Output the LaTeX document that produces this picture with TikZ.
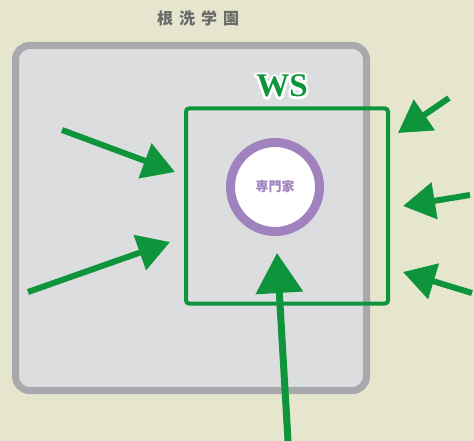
\documentclass[tikz,border=0pt]{standalone}
\usepackage{fontspec}
\usetikzlibrary{arrows.meta}
\newfontfamily\jpfont{Noto Sans CJK JP}
\newfontfamily\wsfont{Liberation Serif}
\definecolor{paper}{RGB}{229,230,205}
\definecolor{campus}{RGB}{220,221,222}
\definecolor{campusline}{RGB}{168,169,172}
\definecolor{wsgreen}{RGB}{14,148,58}
\definecolor{expert}{RGB}{160,131,190}
\definecolor{titlegray}{RGB}{105,105,105}
\newcommand{\wshalo}[1]{\special{pdf:code q 2 Tr 5 w 1 j 1 1 1 RG}#1\special{pdf:code Q}}
\begin{document}
\begin{tikzpicture}[x=1pt,y=-1pt]

        \fill[paper] (0,0) rectangle (474,441);
        \useasboundingbox (0,0) rectangle (474,441);

        \node (campus) [draw=campusline,fill=campus,line width=7pt,rounded corners=14pt,
          minimum width=351pt,minimum height=345pt,inner sep=0pt] at (191,218) {};
        \node (title) at (198,18)
          {\jpfont\bfseries\fontsize{16}{16}\selectfont\color{titlegray}根\hspace{6pt}洗\hspace{6pt}学\hspace{6pt}園};

        \node (ws) [draw=wsgreen,line width=4pt,rounded corners=3pt,
          minimum width=202pt,minimum height=195pt,inner sep=0pt] at (287,206) {};
        \node (wshalo) at (282,86)
          {\wsfont\bfseries\fontsize{33}{33}\selectfont\color{white}\wshalo{WS}};
        \node (wslabel) at (282,86)
          {\wsfont\bfseries\fontsize{33}{33}\selectfont\color{wsgreen}WS};

        \node (expert) [circle,draw=expert,fill=white,line width=9pt,minimum size=89pt,inner sep=0pt]
          at (275,187) {\jpfont\bfseries\fontsize{13}{13}\selectfont\color{expert}専門家};

        \begin{scope}
          \coordinate (w1) at (62,130);   \coordinate (w1tip) at (175,172);
          \coordinate (w2) at (28,292);   \coordinate (w2tip) at (170,242);
          \coordinate (e1) at (449,98);   \coordinate (e1tip) at (398,133);
          \coordinate (e2) at (470,195);  \coordinate (e2tip) at (403,206);
          \coordinate (e3) at (472,293);  \coordinate (e3tip) at (403,272);
          \coordinate (s1) at (288,441);  \coordinate (s1tip) at (277,253);
        \end{scope}

        \begin{scope}[every edge/.style={draw=wsgreen,line width=6pt,-{Triangle[length=32pt,width=36pt]}}]
          \path (w1) edge (w1tip);
          \path (w2) edge (w2tip);
          \path (e1) edge (e1tip);
          \path (e2) edge (e2tip);
          \path (e3) edge (e3tip);
          \path (s1) edge[line width=7pt,-{Triangle[length=40pt,width=46pt]}] (s1tip);
        \end{scope}

      \end{tikzpicture}
\end{document}
